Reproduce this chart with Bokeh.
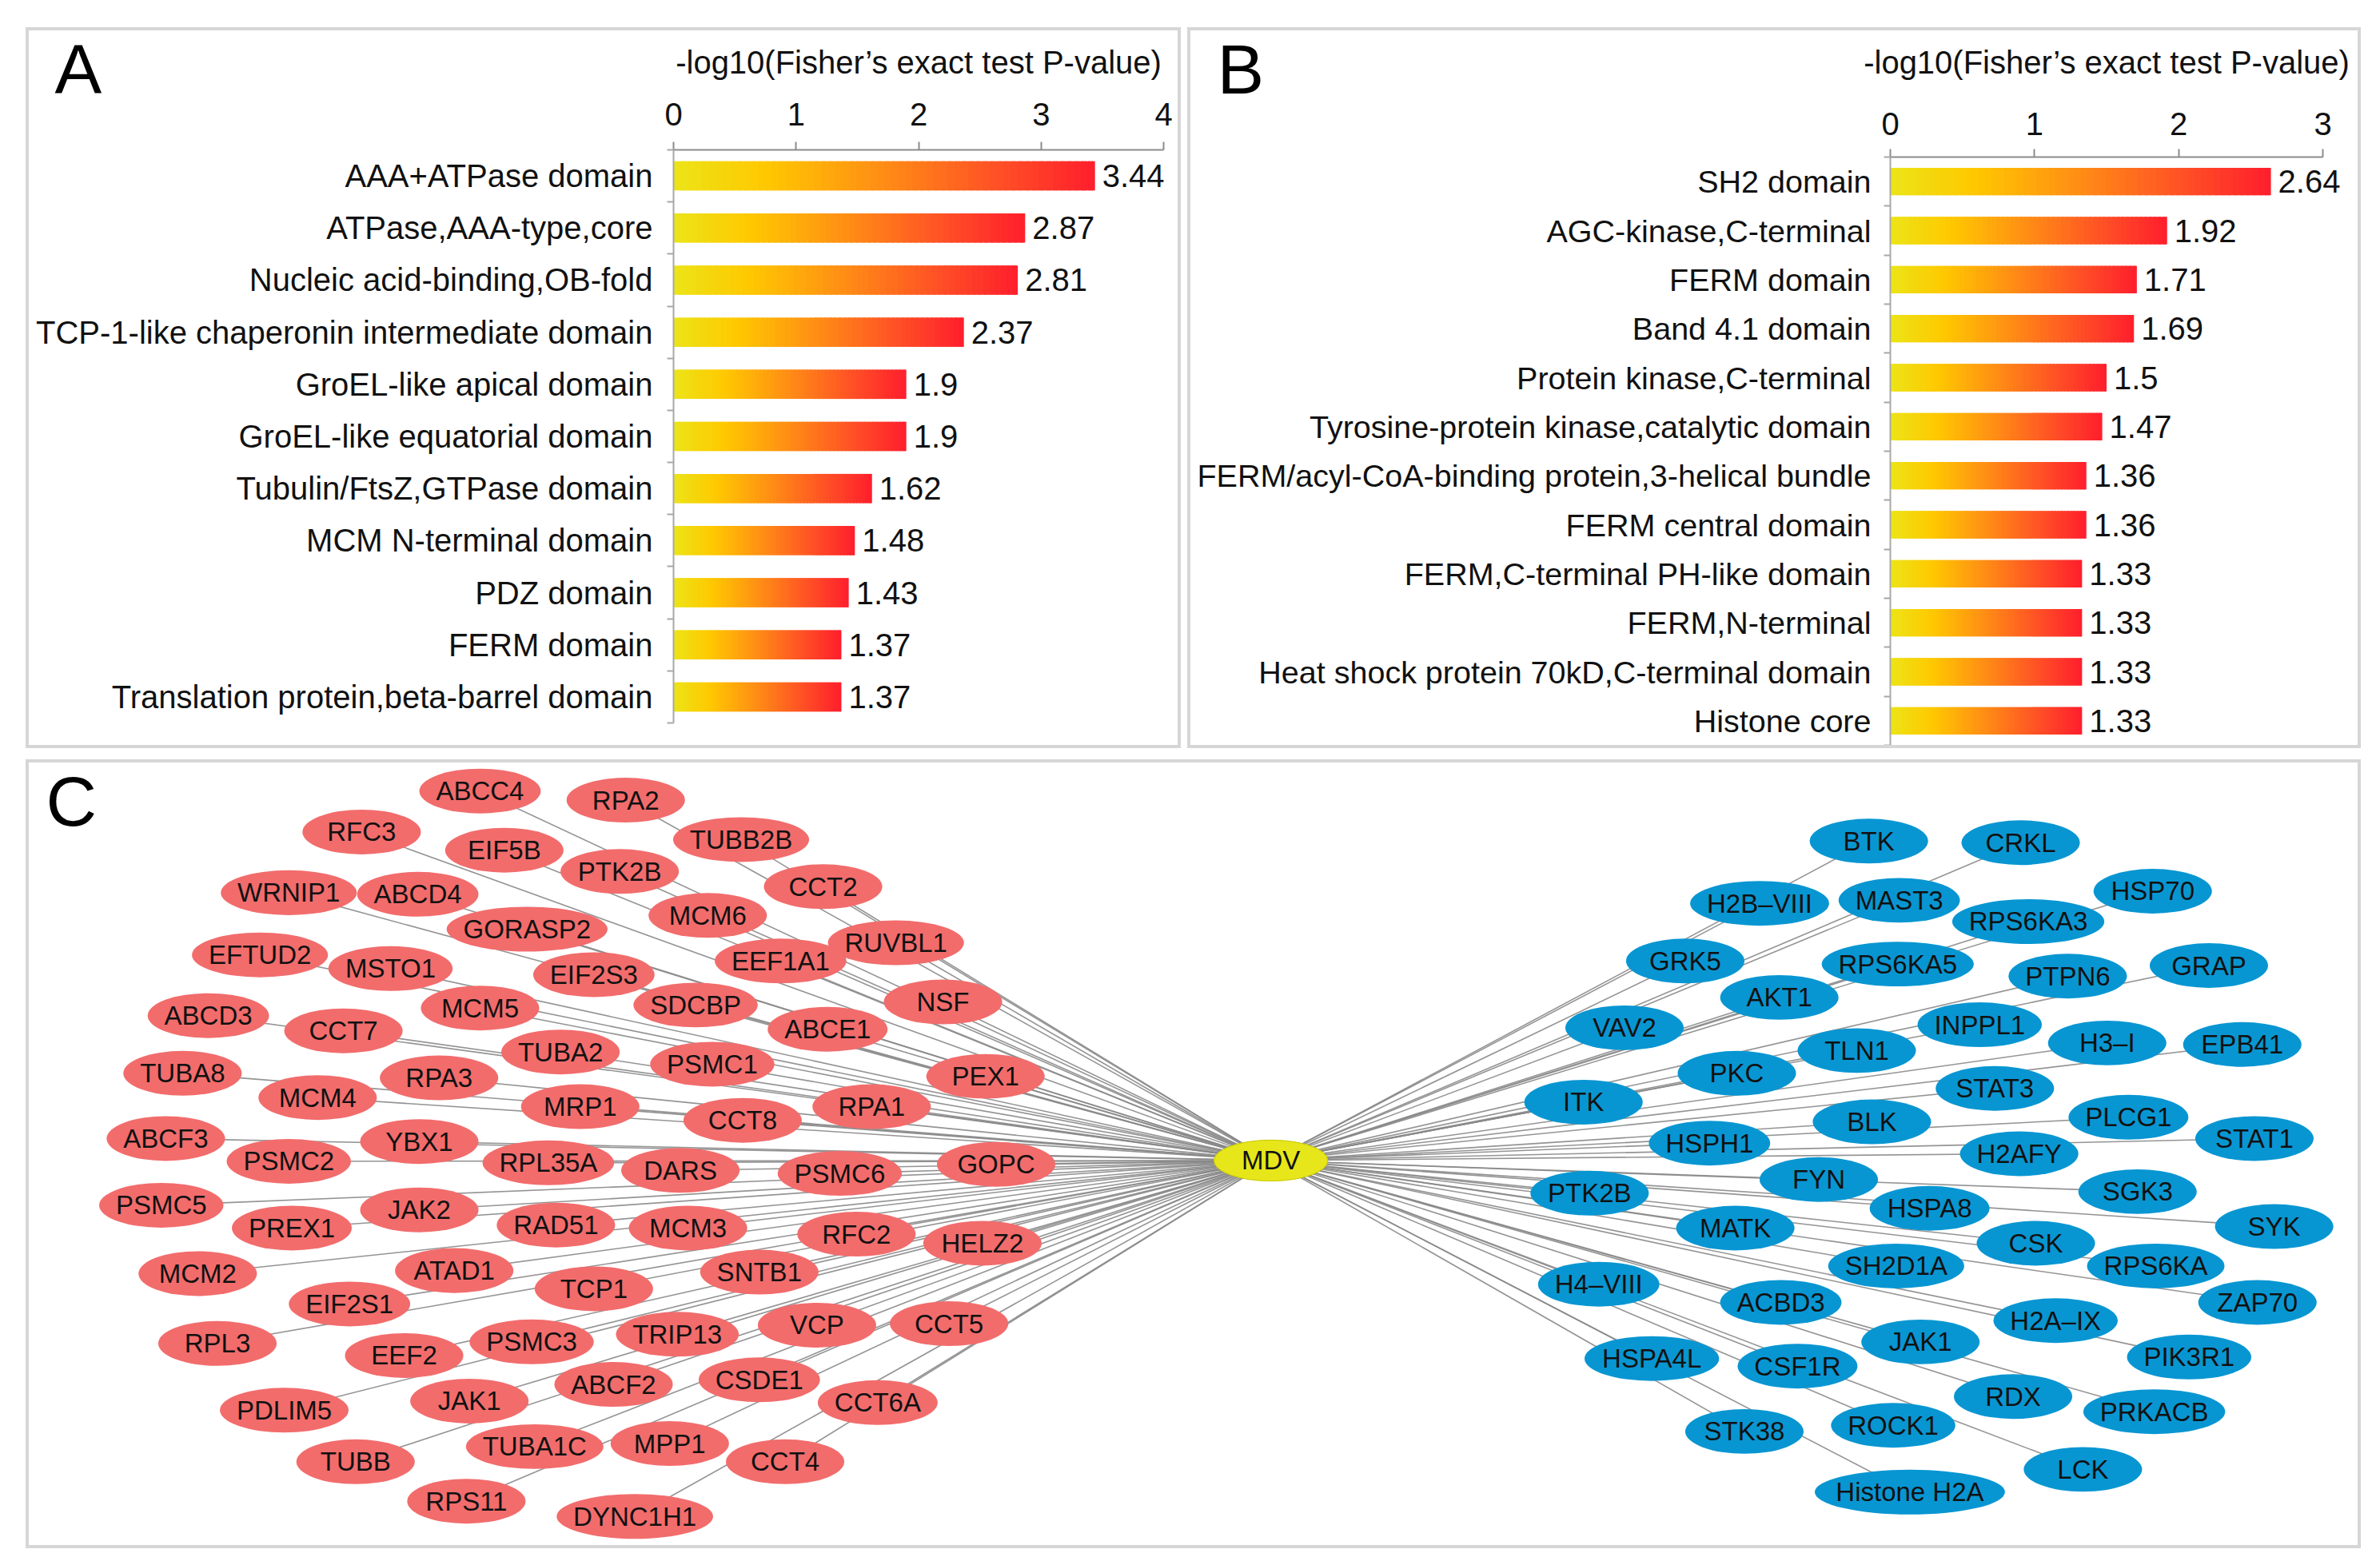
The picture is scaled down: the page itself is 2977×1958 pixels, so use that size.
import numpy as np
from bokeh.plotting import figure
from bokeh.models import (Range1d, FixedTicker, LinearAxis, Column, Row)
from bokeh.embed import file_html
from bokeh.resources import INLINE
from bokeh.core.properties import value

FONT = "Liberation Sans"

# ---------------- Panel A data ----------------
a_terms = ["AAA+ATPase domain", "ATPase,AAA-type,core", "Nucleic acid-binding,OB-fold",
           "TCP-1-like chaperonin intermediate domain", "GroEL-like apical domain",
           "GroEL-like equatorial domain", "Tubulin/FtsZ,GTPase domain", "MCM N-terminal domain",
           "PDZ domain", "FERM domain", "Translation protein,beta-barrel domain"]
a_values = [3.44, 2.87, 2.81, 2.37, 1.9, 1.9, 1.62, 1.48, 1.43, 1.37, 1.37]
a_ticks = [0, 1, 2, 3, 4]

# ---------------- Panel B data ----------------
b_terms = ["SH2 domain", "AGC-kinase,C-terminal", "FERM domain", "Band 4.1 domain",
           "Protein kinase,C-terminal", "Tyrosine-protein kinase,catalytic domain",
           "FERM/acyl-CoA-binding protein,3-helical bundle", "FERM central domain",
           "FERM,C-terminal PH-like domain", "FERM,N-terminal",
           "Heat shock protein 70kD,C-terminal domain", "Histone core"]
b_values = [2.64, 1.92, 1.71, 1.69, 1.5, 1.47, 1.36, 1.36, 1.33, 1.33, 1.33, 1.33]
b_ticks = [0, 1, 2, 3]

axis_title = "-log10(Fisher\u2019s exact test P-value)"

# ---------------- Panel C network data (layout coordinates) ----------------
hub_name = "MDV"
hub_x = 837
hub_y = 764.5

red_names = ["ABCC4", "RPA2", "RFC3", "EIF5B", "TUBB2B", "PTK2B", "CCT2", "WRNIP1", "ABCD4", "MCM6",
             "GORASP2", "RUVBL1", "EFTUD2", "MSTO1", "EEF1A1", "EIF2S3", "NSF", "SDCBP", "MCM5", "ABCD3",
             "CCT7", "ABCE1", "TUBA2", "PSMC1", "PEX1", "TUBA8", "RPA3", "MCM4", "MRP1", "RPA1",
             "CCT8", "ABCF3", "YBX1", "PSMC2", "RPL35A", "DARS", "PSMC6", "GOPC", "PSMC5", "JAK2",
             "PREX1", "RAD51", "MCM3", "RFC2", "HELZ2", "MCM2", "ATAD1", "SNTB1", "TCP1", "EIF2S1",
             "RPL3", "EEF2", "PSMC3", "TRIP13", "VCP", "CCT5", "CSDE1", "ABCF2", "JAK1", "PDLIM5",
             "CCT6A", "TUBA1C", "MPP1", "TUBB", "CCT4", "RPS11", "DYNC1H1"]
red_x = [316, 412, 238, 332, 488, 408, 542, 190, 275, 466,
         347, 590, 171, 257, 514, 391, 621, 458, 316, 137,
         226, 545, 369, 469, 649, 120, 289, 209, 382, 574,
         489, 109, 276, 190, 361, 448, 553, 656, 106, 276,
         192, 366, 453, 564, 647, 130, 299, 500, 391, 230,
         143, 266, 350, 446, 538, 625, 500, 404, 309, 187,
         578, 352, 441, 234, 517, 307, 418]
red_y = [521, 527, 548, 560, 553, 574, 584, 588, 589, 603,
         612, 621, 629, 638, 633, 642, 660, 662, 664, 669,
         679, 678, 693, 701, 709, 707, 710, 723, 729, 729,
         738, 750, 752, 765, 766, 771, 773, 767, 794, 797,
         809, 807, 809, 813, 819, 839, 837, 838, 849, 859,
         885, 893, 884, 879, 873, 872, 909, 912, 923, 929,
         924, 953, 951, 963, 963, 989, 999]

blue_names = ["BTK", "CRKL", "H2B\u2013VIII", "MAST3", "HSP70", "RPS6KA3", "GRK5", "RPS6KA5", "PTPN6", "GRAP",
              "AKT1", "VAV2", "INPPL1", "TLN1", "H3\u2013I", "EPB41", "PKC", "ITK", "STAT3", "BLK",
              "PLCG1", "HSPH1", "H2AFY", "STAT1", "FYN", "SGK3", "PTK2B", "HSPA8", "SYK", "MATK",
              "CSK", "RPS6KA", "SH2D1A", "ZAP70", "H4\u2013VIII", "ACBD3", "H2A\u2013IX", "JAK1", "PIK3R1", "HSPA4L",
              "CSF1R", "RDX", "PRKACB", "STK38", "ROCK1", "LCK", "Histone H2A"]
blue_x = [1231, 1331, 1159, 1251, 1418, 1336, 1110, 1250, 1362, 1455,
          1172, 1070, 1304, 1223, 1388, 1477, 1144, 1043, 1314, 1233,
          1402, 1126, 1330, 1485, 1198, 1408, 1047, 1271, 1498, 1143,
          1341, 1420, 1249, 1487, 1053, 1173, 1354, 1265, 1442, 1088,
          1184, 1326, 1419, 1149, 1247, 1372, 1258]
blue_y = [554, 555, 595, 593, 587, 607, 633, 635, 643, 636,
          657, 677, 675, 692, 687, 688, 707, 726, 717, 739,
          736, 753, 760, 750, 777, 785, 786, 796, 808, 809,
          819, 834, 834, 858, 846, 858, 870, 884, 894, 895,
          900, 920, 930, 943, 939, 968, 983]

# ---------------- helpers ----------------
STOPS = [(0.0, (236, 228, 24)), (0.22, (255, 200, 0)), (0.5, (255, 140, 22)),
         (0.78, (255, 78, 38)), (1.0, (255, 30, 45))]

LETTER_SIZE = 88


def grad(t):
    for (t0, c0), (t1, c1) in zip(STOPS, STOPS[1:]):
        if t <= t1:
            f = (t - t0) / (t1 - t0)
            return "#%02x%02x%02x" % tuple(int(round(a + (b - a) * f)) for a, b in zip(c0, c1))
    return "#%02x%02x%02x" % STOPS[-1][1]


def bar_panel(terms, values, ticks, W, H, bl, bt, br, bb, letter, lxo, lyo,
              standoff, tick_standoff, title_standoff, label_size):
    n = len(terms)
    p = figure(width=W, height=H, output_backend="svg", toolbar_location=None,
               x_range=Range1d(ticks[0], ticks[-1]), y_range=Range1d(n - 0.5, -0.5),
               x_axis_location=None, y_axis_location=None,
               min_border_left=bl, min_border_top=bt, min_border_right=br, min_border_bottom=bb)
    p.xgrid.visible = False
    p.ygrid.visible = False
    p.outline_line_color = None
    p.background_fill_color = "white"
    p.border_fill_color = "white"

    # gradient bars: each bar split in thin slices coloured yellow -> red
    N = 60
    ys, ls, rs, cs = [], [], [], []
    for i, v in enumerate(values):
        step = v / N
        for k in range(N):
            ys.append(i)
            ls.append(k * step)
            rs.append(min(v, (k + 1.8) * step))
            cs.append(grad((k + 0.5) / N))
    p.hbar(y=ys, left=ls, right=rs, height=0.56, fill_color=cs, line_color=None)

    p.text(x=values, y=list(range(n)), text=["%g" % v for v in values], x_offset=9,
           text_align="left", text_baseline="middle", text_font=value(FONT),
           text_font_size="40px", text_color="#111111", level="overlay")

    # panel letter, anchored to the frame's top-left corner
    p.text(x=[ticks[0]], y=[-0.5], text=[letter], x_offset=lxo, y_offset=lyo,
           text_align="left", text_baseline="alphabetic", text_font=value(FONT),
           text_font_size="%dpx" % LETTER_SIZE, text_color="black", level="overlay")

    xa = LinearAxis(ticker=FixedTicker(ticks=ticks), axis_label=axis_title)
    xa.axis_line_color = "#8c8c8c"
    xa.axis_line_width = 2
    xa.major_tick_line_color = "#8c8c8c"
    xa.major_tick_line_width = 2
    xa.major_tick_out = 10
    xa.major_tick_in = 0
    xa.minor_tick_line_color = None
    xa.major_label_text_font = FONT
    xa.major_label_text_font_size = "40px"
    xa.major_label_text_color = "#111111"
    xa.major_label_standoff = tick_standoff
    xa.axis_label_text_font = FONT
    xa.axis_label_text_font_size = "40px"
    xa.axis_label_text_font_style = "normal"
    xa.axis_label_text_color = "#111111"
    xa.axis_label_standoff = title_standoff
    p.add_layout(xa, "above")

    ya = LinearAxis(ticker=FixedTicker(ticks=list(range(n)),
                                       minor_ticks=[i - 0.5 for i in range(n + 1)]),
                    major_label_overrides={i: t for i, t in enumerate(terms)})
    ya.axis_line_color = "#a8a8a8"
    ya.axis_line_width = 2
    ya.major_tick_line_color = None
    ya.major_tick_out = 0
    ya.major_tick_in = 0
    ya.minor_tick_line_color = "#a8a8a8"
    ya.minor_tick_line_width = 2
    ya.minor_tick_out = 8
    ya.minor_tick_in = 0
    ya.major_label_text_font = FONT
    ya.major_label_text_font_size = label_size
    ya.major_label_text_color = "#111111"
    ya.major_label_standoff = standoff
    p.add_layout(ya, "left")
    return p


pa = bar_panel(a_terms, a_values, a_ticks, 1437, 894, 806, 149, 18, 28, "A", -774, -101,
               18, 21, 26, "40px")
pb = bar_panel(b_terms, b_values, b_ticks, 1460, 894, 875, 158, 44, 0, "B", -842, -110,
               16, 18, 38, "39.5px")

# ---------------- Panel C network ----------------
S = 2977 / 1568.0
pc = figure(width=2913, height=979, output_backend="svg", toolbar_location=None,
            x_range=Range1d(36 / S, 2949 / S), y_range=Range1d(1933 / S, 954 / S),
            min_border=0, x_axis_location=None, y_axis_location=None)
pc.xgrid.visible = False
pc.ygrid.visible = False
pc.outline_line_color = None

AW = {c: 0.667 for c in "ABEKPSVXY"}
AW.update({c: 0.722 for c in "CDHNRU"})
AW.update({c: 0.778 for c in "GOQ"})
AW.update({"F": 0.611, "T": 0.611, "Z": 0.611, "L": 0.556, "J": 0.5, "I": 0.278, "M": 0.833, "W": 0.944,
           "\u2013": 0.556, " ": 0.278})
for c in "0123456789":
    AW[c] = 0.556


def node_w(name):
    em = sum(AW.get(c, 0.5) for c in name)
    return max(78.0, em * 33 / S + 22)


all_names = red_names + blue_names
all_x = red_x + blue_x
all_y = red_y + blue_y
all_col = ["#F26C6C"] * len(red_names) + ["#0896D2"] * len(blue_names)

pc.segment(x0=all_x, y0=all_y, x1=[hub_x] * len(all_x), y1=[hub_y] * len(all_y),
           line_color="#888888", line_width=1.6, line_alpha=0.9)
pc.ellipse(x=all_x, y=all_y, width=[node_w(n) for n in all_names], height=29.5,
           fill_color=all_col, line_color=None)
pc.text(x=all_x, y=all_y, text=all_names, text_align="center", text_baseline="middle",
        text_font=value(FONT), text_font_size="33px", text_color="#111111")
pc.ellipse(x=[hub_x], y=[hub_y], width=75, height=27, fill_color="#E6E61A",
           line_color="#c8c800", line_width=1)
pc.text(x=[hub_x], y=[hub_y], text=[hub_name], text_align="center", text_baseline="middle",
        text_font=value(FONT), text_font_size="33px", text_color="#111111")
# panel letter C, anchored to the frame's top-left corner
pc.text(x=[36 / S], y=[954 / S], text=["C"], x_offset=21, y_offset=48,
        text_align="left", text_baseline="alphabetic", text_font=value(FONT),
        text_font_size="%dpx" % LETTER_SIZE, text_color="black", level="overlay")

BORDER = {"border": "4px solid #d6d6d6"}
boxA = Column(children=[pa], styles=BORDER)
boxB = Column(children=[pb], styles=BORDER)
boxC = Column(children=[pc], styles=BORDER)
top = Row(children=[boxA, boxB], spacing=8)
page = Column(children=[top, boxC], spacing=14, margin=(34, 0, 0, 32))

open("out.html", "w").write(file_html(page, INLINE))
